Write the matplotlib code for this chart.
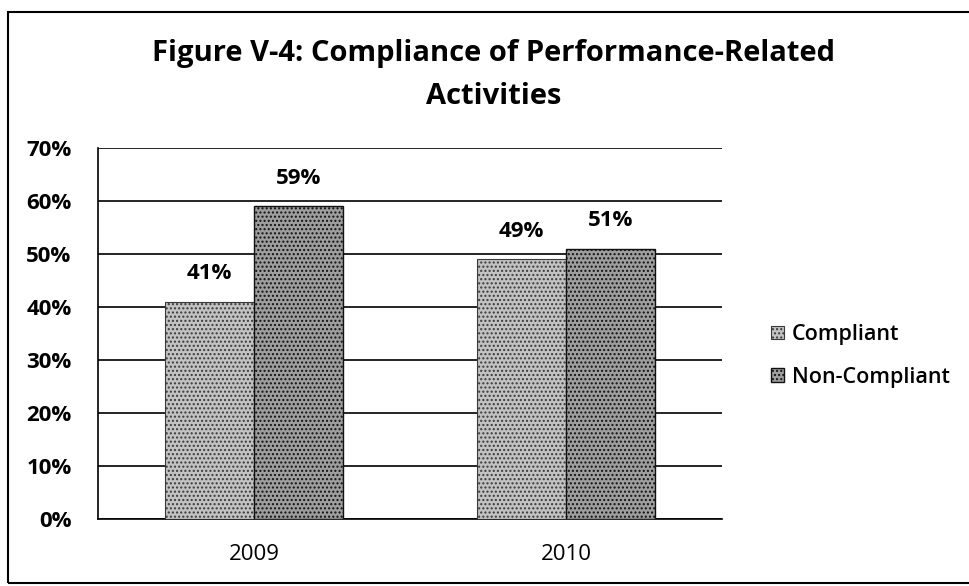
import numpy as np
import matplotlib.pyplot as plt
from matplotlib.patches import Rectangle

years = ["2009", "2010"]
compliant = [41, 49]
non_compliant = [59, 51]
series_names = ["Compliant", "Non-Compliant"]
yticks = [0, 10, 20, 30, 40, 50, 60, 70]

plt.rcParams['font.family'] = ['Open Sans', 'DejaVu Sans']

fig = plt.figure(figsize=(9.7, 5.86), dpi=100)
# plot area: x 98..722 px, y 148..519 px
ax = fig.add_axes([98 / 970, 1 - 519 / 586, 624 / 970, 371 / 586])

x = np.arange(len(years))
w = 0.285
bars1 = ax.bar(x - w / 2, compliant, w, color='#c2c2c2', edgecolor='#3a3a3a',
               linewidth=0.8, hatch='....', label=series_names[0], zorder=3)
bars2 = ax.bar(x + w / 2, non_compliant, w, color='#9e9e9e', edgecolor='#111111',
               linewidth=1.0, hatch='....', label=series_names[1], zorder=3)

for bars in (bars1, bars2):
    for b in bars:
        ax.text(b.get_x() + b.get_width() / 2, b.get_height() + 5.3,
                f"{b.get_height():.0f}%", ha='center', va='center',
                fontsize=16, fontweight='bold')

ax.set_xlim(-0.5, 1.5)
ax.set_ylim(0, 70)
ax.set_yticks(yticks)
ax.set_yticklabels([f"{t}%" for t in yticks], fontsize=16, fontweight='bold')
ax.set_xticks(x)
ax.set_xticklabels(years, fontsize=16)
ax.tick_params(axis='y', length=0, pad=19)
ax.tick_params(axis='x', length=0, pad=18)
ax.grid(axis='y', color='black', linewidth=1.2, zorder=0)
for s in ['top', 'right']:
    ax.spines[s].set_visible(False)
ax.spines['left'].set_linewidth(1.2)
ax.spines['bottom'].set_linewidth(1.2)

fig.text(494 / 970, 1 - 53 / 586, "Figure V-4: Compliance of Performance-Related",
         ha='center', va='center', fontsize=21, fontweight='bold')
fig.text(494 / 970, 1 - 97 / 586, "Activities",
         ha='center', va='center', fontsize=21, fontweight='bold')

fig.legend(handles=[bars1, bars2], labels=series_names, loc='center left',
           bbox_to_anchor=(752 / 970, 1 - 356 / 586), frameon=False,
           prop={'size': 15.5, 'weight': 'semibold'},
           handlelength=0.6, handleheight=0.6, handletextpad=0.35,
           labelspacing=1.0)

fig.patches.append(Rectangle((8 / 970, 3 / 586), 1.0, 571 / 586,
                             transform=fig.transFigure, fill=False,
                             edgecolor='black', linewidth=1.5))

fig.savefig("out.png", dpi=100)
